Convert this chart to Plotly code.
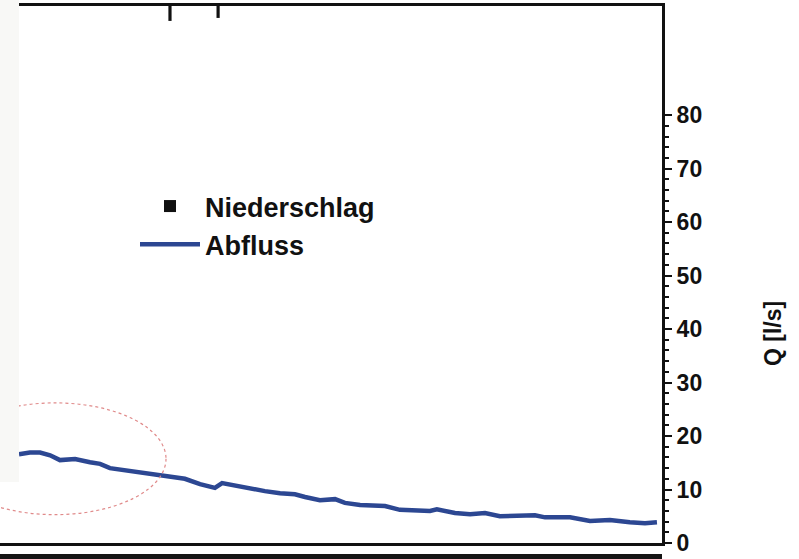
import plotly.graph_objects as go

# ---- data ----
# discharge Q [l/s] over time (hours)
t_hours = [0.00, 0.41, 0.79, 1.17, 1.54, 2.11, 2.67, 3.05, 3.42, 3.99, 4.55, 5.12,
           5.68, 6.24, 6.81, 7.19, 7.37, 7.64, 8.13, 8.69, 9.25, 9.82, 10.38, 10.76,
           11.32, 11.89, 12.26, 12.83, 13.39, 13.77, 14.33, 14.90, 15.46, 15.72, 16.40,
           16.97, 17.53, 18.09, 18.85, 19.41, 19.79, 20.73, 21.48, 22.23, 22.98, 23.55, 24.00]
q_abfluss = [16.6, 16.9, 16.9, 16.4, 15.5, 15.7, 15.1, 14.8, 14.0, 13.6, 13.3, 12.7,
             12.3, 12.0, 11.0, 10.5, 10.3, 11.2, 10.7, 10.3, 9.7, 9.3, 9.1, 8.6,
             8.0, 8.2, 7.5, 7.1, 7.1, 6.9, 6.2, 6.0, 6.0, 6.3, 5.6,
             5.4, 5.6, 5.0, 5.0, 5.2, 4.8, 4.8, 4.1, 4.3, 3.9, 3.7, 3.9]

# precipitation (mm) hanging from the top
t_rain = [5.68, 7.49]
niederschlag = [0.5, 0.4]

q_tickvals = [0, 10, 20, 30, 40, 50, 60, 70, 80]
q_minorvals = list(range(0, 81, 2))

FONT = "Liberation Sans"

fig = go.Figure()

fig.add_trace(go.Bar(
    x=t_rain, y=niederschlag, name="Niederschlag", yaxis="y2",
    marker=dict(color="#111111", line=dict(width=0)), width=0.12,
))
fig.add_trace(go.Scatter(
    x=t_hours, y=q_abfluss, name="Abfluss", mode="lines",
    line=dict(color="#2c4792", width=4.5),
))

W, H = 799, 559
ml, mr, mt, mb = 0, 137, 6, 16
ph = H - mt - mb
pw = W - ml - mr

fig.update_layout(
    width=W, height=H,
    margin=dict(l=ml, r=mr, t=mt, b=mb, pad=0),
    paper_bgcolor="white", plot_bgcolor="white",
    font=dict(family=FONT, color="#111111"),
    showlegend=True,
    legend=dict(
        x=135 / pw, y=(543 - 182) / ph, xanchor="left", yanchor="top",
        bgcolor="rgba(0,0,0,0)", borderwidth=0,
        font=dict(family=FONT, size=27, color="#111111", weight="bold"),
        itemwidth=60, tracegroupgap=0,
    ),
    xaxis=dict(
        range=[-0.715, 24.19], showgrid=False, zeroline=False,
        showline=True, mirror=True, linecolor="#111111", linewidth=3,
        ticks="", showticklabels=False,
    ),
    yaxis=dict(
        side="right", range=[0, 100.4], showgrid=False, zeroline=False,
        showline=True, linecolor="#111111", linewidth=3,
        ticks="outside", ticklen=7, tickwidth=2, tickcolor="#111111",
        tickmode="array", tickvals=q_tickvals,
        tickfont=dict(family=FONT, size=23, color="#111111", weight="bold"),
        minor=dict(tickmode="array", tickvals=q_minorvals, ticks="outside",
                   ticklen=4, tickwidth=1.5, tickcolor="#111111"),
    ),
    yaxis2=dict(
        overlaying="y", side="left", range=[18, 0], visible=False,
        showgrid=False, zeroline=False,
    ),
    shapes=[
        # red dotted ellipse marking the start
        dict(type="circle", xref="x", yref="y",
             x0=-2.82, x1=5.53, y0=5.3, y1=26.2,
             line=dict(color="#e08a8a", width=1.2, dash="dot")),
        # light strip on the left edge
        dict(type="rect", xref="paper", yref="paper",
             x0=-0.01, x1=19 / pw, y0=(543 - 482) / ph, y1=1.05,
             fillcolor="#f8f8f6", line=dict(width=0), layer="above"),
        # line of the panel below
        dict(type="rect", xref="paper", yref="paper",
             x0=-0.01, x1=662 / pw, y0=(543 - 561) / ph, y1=(543 - 554) / ph,
             fillcolor="#151515", line=dict(width=0), layer="above"),
    ],
    annotations=[
        dict(text="<b>Q [l/s]</b>", xref="paper", yref="paper",
             x=(773 - ml) / pw, y=(543 - 334) / ph, xanchor="center", yanchor="middle",
             textangle=-90, showarrow=False,
             font=dict(family=FONT, size=23, color="#111111")),
    ],
)

fig.write_html(
    "out.html",
    config={"displayModeBar": False},
    post_script="document.body.style.margin='0';document.body.style.overflow='hidden';",
)
